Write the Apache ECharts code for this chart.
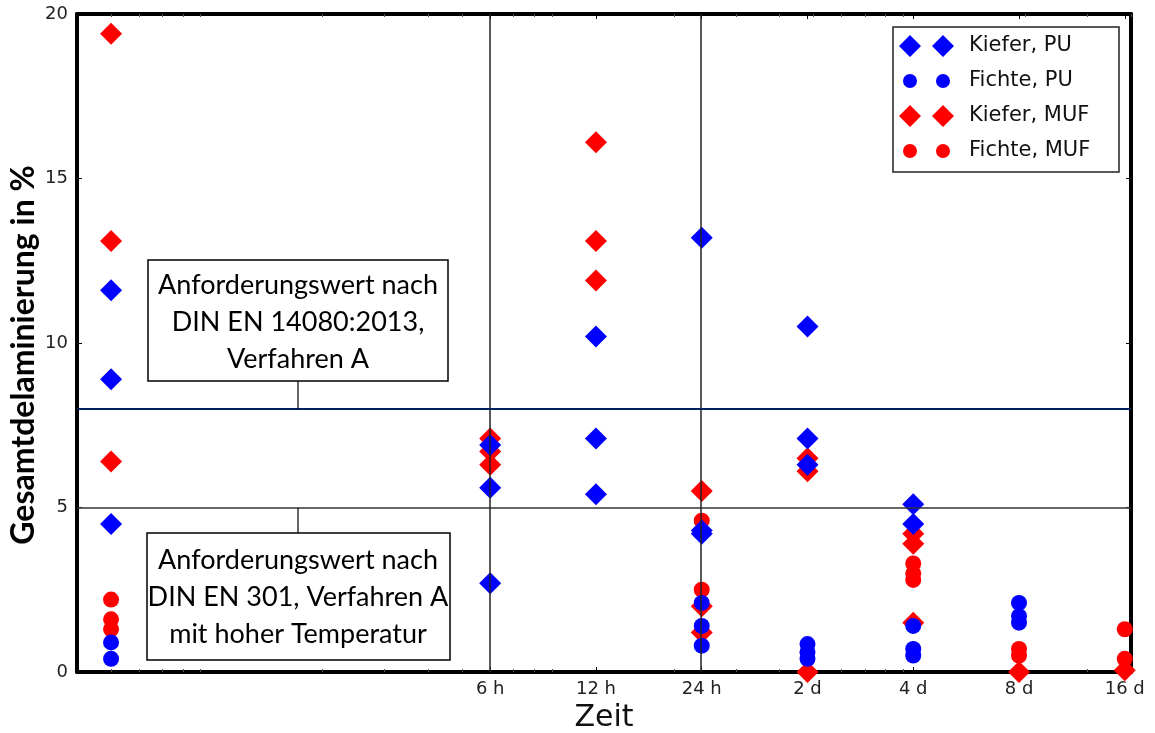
<!DOCTYPE html>
<html>
<head>
<meta charset="utf-8">
<title>Gesamtdelaminierung</title>
<script src="https://cdn.jsdelivr.net/npm/echarts@6/dist/echarts.min.js"></script>
<style>
html, body { margin: 0; padding: 0; background: #fff; }
#chart { width: 1155px; height: 733px; }
</style>
</head>
<body>
<div id="chart"></div>
<script>
// Zeitachse (Stunden, log. Darstellung)
var timeHours = [6, 12, 24, 48, 96, 192, 384]
var timeLabels = ['6 h', '12 h', '24 h', '2 d', '4 d', '8 d', '16 d']
var minorHours = [0.5, 0.6, 0.7, 0.8, 0.9, 2, 3, 4, 5, 7, 8, 9, 20, 30, 40, 50, 60, 70, 80, 90, 200, 300, 400]

// Messwerte [Stunden, Gesamtdelaminierung %] - 0.5 h = Referenzspalte
var kieferPU = [
  [0.5, 11.6], [0.5, 8.9], [0.5, 4.5],
  [6, 6.9], [6, 5.6], [6, 2.7],
  [12, 10.2], [12, 7.1], [12, 5.4],
  [24, 13.2], [24, 4.3], [24, 4.2],
  [48, 10.5], [48, 7.1], [48, 6.3],
  [96, 5.1], [96, 4.5]
]
var fichtePU = [
  [0.5, 0.9], [0.5, 0.4],
  [24, 2.1], [24, 1.4], [24, 0.8],
  [48, 0.85], [48, 0.6], [48, 0.4],
  [96, 1.4], [96, 0.7], [96, 0.5],
  [192, 2.1], [192, 1.7], [192, 1.5]
]
var kieferMUF = [
  [0.5, 19.4], [0.5, 13.1], [0.5, 6.4],
  [6, 7.1], [6, 6.7], [6, 6.3],
  [12, 16.1], [12, 13.1], [12, 11.9],
  [24, 5.5], [24, 2.0], [24, 1.2],
  [48, 6.5], [48, 6.1], [48, 0.0],
  [96, 4.2], [96, 3.9], [96, 1.5],
  [192, 0.0], [384, 0.05]
]
var fichteMUF = [
  [0.5, 2.2], [0.5, 1.6], [0.5, 1.3],
  [24, 4.6], [24, 2.5],
  [96, 3.3], [96, 3.0], [96, 2.8],
  [192, 0.7], [192, 0.5],
  [384, 1.3], [384, 0.4]
]

// Anforderungswerte und senkrechte Hilfslinien
var limitEN14080 = 8
var limitEN301 = 5
var vLines = [6, 24]

function lx(h) {
  return Math.log2(h)
}
function pts(arr) {
  return arr.map(function (p) { return [lx(p[0]), p[1]] })
}

var sans = 'DejaVu Sans'
var calibri = 'Lato'
var noteFont = '27px Lato'

// Legenden-Symbole mit je zwei Markern
var iconDiamond = 'path://M0,11L11,0L22,11L11,22Z M33,11L44,0L55,11L44,22Z'
var iconCircle = 'path://M0,0 M55,22 M4,11A7,7 0 1,1 18,11A7,7 0 1,1 4,11Z M37,11A7,7 0 1,1 51,11A7,7 0 1,1 37,11Z'

var chart = echarts.init(document.getElementById('chart'))

var xMin = lx(0.4)
var xMax = lx(400)

var option = {
  animation: false,
  backgroundColor: '#fff',
  grid: { left: 77, right: 24, top: 14, bottom: 61, outerBoundsMode: 'none', containLabel: false },
  legend: {
    orient: 'vertical',
    left: 899,
    top: 35,
    padding: 0,
    itemGap: 13,
    itemWidth: 55,
    itemHeight: 22,
    textStyle: { fontFamily: sans, fontSize: 21, color: '#111', padding: [0, 0, 0, 10] },
    data: [
      { name: 'Kiefer, PU', icon: iconDiamond },
      { name: 'Fichte, PU', icon: iconCircle },
      { name: 'Kiefer, MUF', icon: iconDiamond },
      { name: 'Fichte, MUF', icon: iconCircle }
    ]
  },
  xAxis: [
    {
      type: 'value', min: xMin, max: xMax, position: 'bottom',
      axisLine: { show: true, onZero: false, lineStyle: { color: '#000', width: 4 } },
      axisTick: { inside: true, length: 5, customValues: timeHours.map(lx), lineStyle: { color: '#000' } },
      axisLabel: {
        customValues: timeHours.map(lx),
        fontFamily: sans, fontSize: 18, color: '#222', margin: 8,
        formatter: function (v) {
          var best = 0
          for (var i = 0; i < timeHours.length; i++) {
            if (Math.abs(lx(timeHours[i]) - v) < Math.abs(lx(timeHours[best]) - v)) best = i
          }
          return timeLabels[best]
        }
      },
      splitLine: { show: false },
      name: 'Zeit', nameLocation: 'middle', nameGap: 30,
      nameTextStyle: { fontFamily: sans, fontSize: 30, color: '#111', verticalAlign: 'top' }
    },
    {
      type: 'value', min: xMin, max: xMax, position: 'top',
      axisLine: { show: true, onZero: false, lineStyle: { color: '#000', width: 4 } },
      axisTick: { inside: true, length: 5, customValues: timeHours.map(lx), lineStyle: { color: '#000' } },
      axisLabel: { show: false },
      splitLine: { show: false }
    },
    {
      type: 'value', min: xMin, max: xMax, position: 'bottom',
      axisLine: { show: false, onZero: false },
      axisTick: { inside: true, length: 3, customValues: minorHours.map(lx), lineStyle: { color: '#555' } },
      axisLabel: { show: false },
      splitLine: { show: false }
    },
    {
      type: 'value', min: xMin, max: xMax, position: 'top',
      axisLine: { show: false, onZero: false },
      axisTick: { inside: true, length: 3, customValues: minorHours.map(lx), lineStyle: { color: '#555' } },
      axisLabel: { show: false },
      splitLine: { show: false }
    }
  ],
  yAxis: [
    {
      type: 'value', min: 0, max: 20, interval: 5, position: 'left',
      axisLine: { show: true, onZero: false, lineStyle: { color: '#000', width: 4 } },
      axisTick: { show: true, inside: true, length: 5, lineStyle: { color: '#000' } },
      axisLabel: { fontFamily: sans, fontSize: 18, color: '#222', margin: 9 },
      splitLine: { show: false },
      name: 'Gesamtdelaminierung in %', nameLocation: 'middle', nameRotate: 90, nameGap: 37,
      nameMoveOverlap: false,
      nameTextStyle: { fontFamily: calibri, fontWeight: 'bold', fontSize: 32, color: '#000', padding: [0, 24, 0, 0] }
    },
    {
      type: 'value', min: 0, max: 20, interval: 5, position: 'right',
      axisLine: { show: true, onZero: false, lineStyle: { color: '#000', width: 4 } },
      axisTick: { show: true, inside: true, length: 5, lineStyle: { color: '#000' } },
      axisLabel: { show: false },
      splitLine: { show: false }
    }
  ],
  series: [
    {
      name: 'Kiefer, PU', type: 'scatter', data: pts(kieferPU), z: 4,
      symbol: 'diamond', symbolSize: 22, itemStyle: { color: '#0000ff', opacity: 1 }
    },
    {
      name: 'Fichte, PU', type: 'scatter', data: pts(fichtePU), z: 4,
      symbol: 'circle', symbolSize: 16, itemStyle: { color: '#0000ff', opacity: 1 }
    },
    {
      name: 'Kiefer, MUF', type: 'scatter', data: pts(kieferMUF), z: 2,
      symbol: 'diamond', symbolSize: 22, itemStyle: { color: '#ff0000', opacity: 1 }
    },
    {
      name: 'Fichte, MUF', type: 'scatter', data: pts(fichteMUF), z: 3,
      symbol: 'circle', symbolSize: 16, itemStyle: { color: '#ff0000', opacity: 1 }
    },
    {
      // Hilfslinien
      name: 'lines', type: 'scatter', data: [], z: 6, silent: true,
      markLine: {
        silent: true,
        symbol: ['none', 'none'],
        label: { show: false },
        data: [
          { xAxis: lx(vLines[0]), lineStyle: { color: '#222', width: 1.5, type: 'solid' } },
          { xAxis: lx(vLines[1]), lineStyle: { color: '#222', width: 1.5, type: 'solid' } },
          { yAxis: limitEN14080, lineStyle: { color: '#002060', width: 2, type: 'solid' } },
          { yAxis: limitEN301, lineStyle: { color: '#333', width: 1.5, type: 'solid' } }
        ]
      }
    }
  ],
  graphic: [
    // Legendenrahmen
    { type: 'rect', z: 10, shape: { x: 893, y: 27, width: 226, height: 145 }, style: { fill: 'none', stroke: '#222', lineWidth: 1.5 } },
    // Anmerkung EN 14080
    { type: 'line', z: 10, shape: { x1: 298, y1: 381, x2: 298, y2: 409 }, style: { stroke: '#000', lineWidth: 1.2 } },
    { type: 'rect', z: 10, shape: { x: 148, y: 260, width: 300, height: 121 }, style: { fill: '#fff', stroke: '#000', lineWidth: 1.5 } },
    { type: 'text', z: 11, x: 298, y: 285, style: { text: 'Anforderungswert nach', font: noteFont, fill: '#000', align: 'center', verticalAlign: 'middle' } },
    { type: 'text', z: 11, x: 298, y: 322, style: { text: 'DIN EN 14080:2013,', font: noteFont, fill: '#000', align: 'center', verticalAlign: 'middle' } },
    { type: 'text', z: 11, x: 298, y: 359, style: { text: 'Verfahren A', font: noteFont, fill: '#000', align: 'center', verticalAlign: 'middle' } },
    // Anmerkung EN 301
    { type: 'line', z: 10, shape: { x1: 298, y1: 508, x2: 298, y2: 533 }, style: { stroke: '#000', lineWidth: 1.2 } },
    { type: 'rect', z: 10, shape: { x: 147, y: 533, width: 303, height: 127 }, style: { fill: '#fff', stroke: '#000', lineWidth: 1.5 } },
    { type: 'text', z: 11, x: 298, y: 560, style: { text: 'Anforderungswert nach', font: noteFont, fill: '#000', align: 'center', verticalAlign: 'middle' } },
    { type: 'text', z: 11, x: 298, y: 597, style: { text: 'DIN EN 301, Verfahren A', font: noteFont, fill: '#000', align: 'center', verticalAlign: 'middle' } },
    { type: 'text', z: 11, x: 298, y: 634, style: { text: 'mit hoher Temperatur', font: noteFont, fill: '#000', align: 'center', verticalAlign: 'middle' } }
  ]
}

chart.setOption(option)
</script>
</body>
</html>
